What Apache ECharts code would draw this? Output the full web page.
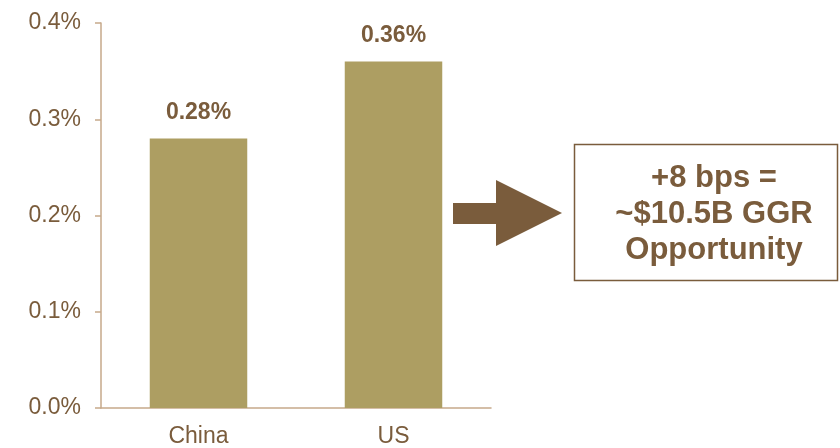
<!DOCTYPE html>
<html>
<head>
<meta charset="utf-8">
<script src="https://cdn.jsdelivr.net/npm/echarts@6/dist/echarts.min.js"></script>
<style>
  html, body { margin: 0; padding: 0; background: #ffffff; }
  #chart { width: 840px; height: 448px; }
</style>
</head>
<body>
<div id="chart"></div>
<script>
// Share of gaming revenue by market (percent)
const categories = ['China', 'US'];
const shareValues = [0.28, 0.36];
const yTickLabels = ['0.0%', '0.1%', '0.2%', '0.3%', '0.4%'];
const calloutLines = ['+8 bps =', '~$10.5B GGR', 'Opportunity'];

const BROWN = '#7a5c3c';
const BAR = '#ad9e62';
const AXIS = '#c6a98a';
const FONT = '"Liberation Sans", Arial, sans-serif';

const chart = echarts.init(document.getElementById('chart'), null, { renderer: 'canvas' });

chart.setOption({
  animation: false,
  backgroundColor: '#ffffff',
  grid: { left: 101, top: 23, width: 390, height: 388, containLabel: false },
  xAxis: {
    type: 'category',
    data: categories,
    axisLine: { lineStyle: { color: AXIS, width: 1.5 } },
    axisTick: { show: false },
    axisLabel: { color: BROWN, fontFamily: FONT, fontSize: 23, margin: 17 }
  },
  yAxis: {
    type: 'value',
    min: 0,
    max: 0.4,
    interval: 0.1,
    axisLine: { show: true, lineStyle: { color: AXIS, width: 1.5 } },
    axisTick: { show: true, length: 6, lineStyle: { color: AXIS, width: 1.5 } },
    splitLine: { show: false },
    axisLabel: {
      color: BROWN, fontFamily: FONT, fontSize: 23, margin: 20,
      formatter: (v) => yTickLabels[Math.round(v * 10)]
    }
  },
  series: [{
    type: 'bar',
    data: shareValues,
    barWidth: '50%',
    itemStyle: { color: BAR },
    label: {
      show: true,
      position: 'top',
      distance: 14,
      color: BROWN,
      fontFamily: FONT,
      fontWeight: 'bold',
      fontSize: 23,
      formatter: (p) => p.value.toFixed(2) + '%'
    }
  }],
  graphic: [
    {
      type: 'polygon',
      shape: {
        points: [[453, 203], [496, 203], [496, 180], [562, 213], [496, 246], [496, 224], [453, 224]]
      },
      style: { fill: BROWN }
    },
    {
      type: 'rect',
      shape: { x: 574.5, y: 144.5, width: 263, height: 136 },
      style: { fill: '#ffffff', stroke: BROWN, lineWidth: 1.5 }
    },
    {
      type: 'text',
      x: 714,
      y: 214,
      style: {
        text: calloutLines.join('\n'),
        fill: BROWN,
        font: 'bold 31px ' + FONT,
        lineHeight: 36,
        align: 'center',
        verticalAlign: 'middle'
      }
    }
  ]
});
</script>
</body>
</html>
